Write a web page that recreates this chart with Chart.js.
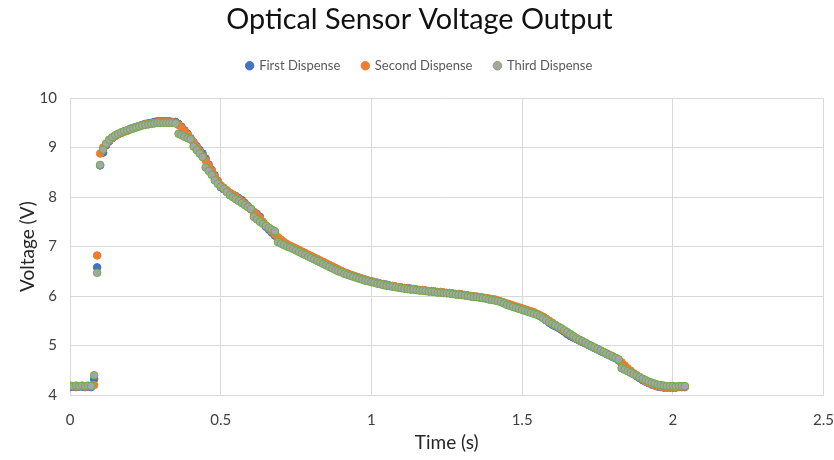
<!DOCTYPE html>
<html>
<head>
<meta charset="utf-8">
<script src="https://cdn.jsdelivr.net/npm/chart.js@4.4.1/dist/chart.umd.min.js"></script>
<style>
  html, body { margin: 0; padding: 0; background: #ffffff; }
  #chart { display: block; }
</style>
</head>
<body>
<canvas id="chart" width="834" height="460"></canvas>
<script>
// Sample times (s), shared by all three dispenses
const time = [
  0.00,0.01,0.02,0.03,0.04,0.05,0.06,0.07,0.08,0.09,
  0.10,0.11,0.12,0.13,0.14,0.15,0.16,0.17,0.18,0.19,
  0.20,0.21,0.22,0.23,0.24,0.25,0.26,0.27,0.28,0.29,
  0.30,0.31,0.32,0.33,0.34,0.35,0.36,0.37,0.38,0.39,
  0.40,0.41,0.42,0.43,0.44,0.45,0.46,0.47,0.48,0.49,
  0.50,0.51,0.52,0.53,0.54,0.55,0.56,0.57,0.58,0.59,
  0.60,0.61,0.62,0.63,0.64,0.65,0.66,0.67,0.68,0.69,
  0.70,0.71,0.72,0.73,0.74,0.75,0.76,0.77,0.78,0.79,
  0.80,0.81,0.82,0.83,0.84,0.85,0.86,0.87,0.88,0.89,
  0.90,0.91,0.92,0.93,0.94,0.95,0.96,0.97,0.98,0.99,
  1.00,1.01,1.02,1.03,1.04,1.05,1.06,1.07,1.08,1.09,
  1.10,1.11,1.12,1.13,1.14,1.15,1.16,1.17,1.18,1.19,
  1.20,1.21,1.22,1.23,1.24,1.25,1.26,1.27,1.28,1.29,
  1.30,1.31,1.32,1.33,1.34,1.35,1.36,1.37,1.38,1.39,
  1.40,1.41,1.42,1.43,1.44,1.45,1.46,1.47,1.48,1.49,
  1.50,1.51,1.52,1.53,1.54,1.55,1.56,1.57,1.58,1.59,
  1.60,1.61,1.62,1.63,1.64,1.65,1.66,1.67,1.68,1.69,
  1.70,1.71,1.72,1.73,1.74,1.75,1.76,1.77,1.78,1.79,
  1.80,1.81,1.82,1.83,1.84,1.85,1.86,1.87,1.88,1.89,
  1.90,1.91,1.92,1.93,1.94,1.95,1.96,1.97,1.98,1.99,
  2.00,2.01,2.02,2.03,2.04
];

// Sensor output (V) for each dispense
const firstDispense = [
  4.16,4.17,4.16,4.17,4.17,4.16,4.17,4.16,4.32,6.58,
  8.64,8.90,9.05,9.13,9.19,9.24,9.27,9.30,9.33,9.35,
  9.38,9.40,9.42,9.44,9.46,9.48,9.49,9.50,9.52,9.53,
  9.53,9.53,9.53,9.53,9.52,9.52,9.48,9.42,9.35,9.28,
  9.19,9.11,9.03,8.95,8.88,8.78,8.66,8.55,8.44,8.33,
  8.20,8.16,8.12,8.08,8.05,8.02,7.98,7.94,7.88,7.82,
  7.76,7.70,7.66,7.60,7.48,7.40,7.34,7.28,7.22,7.17,
  7.12,7.08,7.04,7.01,6.98,6.95,6.92,6.89,6.86,6.83,
  6.80,6.77,6.74,6.71,6.68,6.65,6.62,6.59,6.56,6.53,
  6.50,6.47,6.45,6.43,6.41,6.39,6.37,6.35,6.33,6.31,
  6.30,6.28,6.27,6.25,6.24,6.23,6.21,6.20,6.19,6.18,
  6.17,6.16,6.16,6.15,6.14,6.13,6.12,6.12,6.11,6.10,
  6.10,6.09,6.08,6.08,6.07,6.06,6.06,6.05,6.04,6.03,
  6.03,6.02,6.01,6.00,5.99,5.98,5.97,5.96,5.95,5.94,
  5.93,5.92,5.90,5.88,5.86,5.84,5.82,5.80,5.78,5.76,
  5.74,5.72,5.70,5.68,5.66,5.63,5.60,5.56,5.51,5.46,
  5.42,5.39,5.36,5.32,5.28,5.23,5.19,5.16,5.13,5.10,
  5.07,5.04,5.01,4.98,4.95,4.92,4.89,4.86,4.83,4.80,
  4.77,4.74,4.70,4.64,4.57,4.51,4.46,4.42,4.38,4.34,
  4.30,4.27,4.24,4.21,4.19,4.17,4.16,4.15,4.15,4.15,
  4.15,4.15,4.16,4.16,4.16
];

const secondDispense = [
  4.18,4.18,4.17,4.18,4.18,4.17,4.18,4.18,4.20,6.82,
  8.88,9.00,9.08,9.15,9.20,9.24,9.27,9.30,9.32,9.34,
  9.37,9.39,9.41,9.43,9.45,9.47,9.48,9.49,9.50,9.51,
  9.51,9.51,9.51,9.51,9.51,9.50,9.46,9.40,9.33,9.26,
  9.18,9.10,9.01,8.92,8.83,8.74,8.64,8.53,8.42,8.32,
  8.24,8.19,8.14,8.09,8.05,8.01,7.96,7.91,7.86,7.81,
  7.76,7.70,7.64,7.57,7.50,7.43,7.37,7.31,7.25,7.19,
  7.14,7.09,7.05,7.02,6.99,6.96,6.93,6.90,6.87,6.84,
  6.81,6.78,6.75,6.72,6.69,6.66,6.63,6.60,6.57,6.54,
  6.51,6.48,6.46,6.43,6.41,6.39,6.37,6.35,6.33,6.31,
  6.29,6.28,6.26,6.25,6.23,6.22,6.21,6.20,6.19,6.18,
  6.17,6.16,6.15,6.14,6.14,6.13,6.12,6.12,6.11,6.10,
  6.10,6.09,6.08,6.08,6.07,6.06,6.06,6.05,6.04,6.04,
  6.03,6.02,6.01,6.00,5.99,5.99,5.98,5.97,5.96,5.95,
  5.94,5.93,5.91,5.89,5.87,5.85,5.83,5.81,5.79,5.77,
  5.75,5.73,5.71,5.69,5.67,5.64,5.61,5.58,5.54,5.50,
  5.46,5.42,5.38,5.34,5.30,5.26,5.22,5.18,5.14,5.11,
  5.08,5.05,5.02,4.99,4.96,4.93,4.90,4.87,4.84,4.81,
  4.78,4.75,4.71,4.66,4.60,4.54,4.49,4.44,4.40,4.36,
  4.32,4.28,4.25,4.22,4.20,4.18,4.17,4.17,4.16,4.16,
  4.16,4.16,4.17,4.17,4.17
];

const thirdDispense = [
  4.19,4.18,4.19,4.18,4.19,4.18,4.19,4.18,4.40,6.47,
  8.65,8.96,9.08,9.16,9.21,9.25,9.28,9.31,9.33,9.35,
  9.37,9.39,9.41,9.43,9.45,9.46,9.47,9.48,9.49,9.50,
  9.50,9.50,9.50,9.50,9.50,9.49,9.28,9.25,9.22,9.19,
  9.17,9.02,8.95,8.88,8.81,8.60,8.53,8.45,8.34,8.27,
  8.21,8.17,8.10,8.04,8.00,7.96,7.92,7.88,7.84,7.80,
  7.76,7.60,7.55,7.50,7.46,7.42,7.38,7.34,7.31,7.09,
  7.06,7.03,7.00,6.98,6.95,6.92,6.89,6.86,6.83,6.80,
  6.77,6.74,6.71,6.68,6.65,6.62,6.59,6.56,6.53,6.50,
  6.48,6.45,6.43,6.41,6.39,6.37,6.35,6.33,6.31,6.30,
  6.28,6.27,6.25,6.24,6.22,6.21,6.20,6.19,6.18,6.17,
  6.16,6.15,6.14,6.13,6.13,6.12,6.11,6.11,6.10,6.09,
  6.09,6.08,6.07,6.07,6.06,6.06,6.05,6.04,6.03,6.03,
  6.02,6.01,6.00,5.99,5.98,5.98,5.97,5.96,5.95,5.93,
  5.92,5.91,5.90,5.88,5.85,5.82,5.80,5.78,5.76,5.74,
  5.72,5.70,5.68,5.66,5.64,5.62,5.59,5.55,5.51,5.47,
  5.44,5.41,5.38,5.35,5.31,5.27,5.23,5.19,5.15,5.12,
  5.09,5.06,5.02,4.99,4.96,4.93,4.90,4.87,4.84,4.81,
  4.78,4.75,4.72,4.54,4.51,4.48,4.45,4.42,4.39,4.36,
  4.33,4.30,4.27,4.25,4.23,4.21,4.20,4.19,4.18,4.18,
  4.18,4.17,4.18,4.18,4.18
];

// Axis ticks
const timeTicks = [0, 0.5, 1, 1.5, 2, 2.5];
const voltageTicks = [4, 5, 6, 7, 8, 9, 10];

const seriesNames = ['First Dispense', 'Second Dispense', 'Third Dispense'];

const FONT = 'Lato, "Open Sans", sans-serif';
const GRID = '#d9d9d9';

const toPoints = (values) => time.map((t, i) => ({ x: t, y: values[i] }));

// Adds empty room between the legend and the plot area
const legendGap = {
  id: 'legendGap',
  beforeInit(chart) {
    Chart.layouts.addBox(chart, {
      position: 'top',
      weight: 900,
      fullSize: true,
      options: {},
      isHorizontal() { return true; },
      update(maxWidth) { this.width = maxWidth; this.height = 15.9; },
      draw() {}
    });
  }
};

new Chart(document.getElementById('chart'), {
  type: 'scatter',
  data: {
    datasets: [
      {
        label: seriesNames[0],
        data: toPoints(firstDispense),
        backgroundColor: '#4472C4',
        borderColor: '#4472C4',
        order: 3
      },
      {
        label: seriesNames[1],
        data: toPoints(secondDispense),
        backgroundColor: '#ED7D31',
        borderColor: '#ED7D31',
        order: 2
      },
      {
        label: seriesNames[2],
        data: toPoints(thirdDispense),
        backgroundColor: '#A5A5A5',
        borderColor: '#70AD47',
        order: 1
      }
    ]
  },
  options: {
    responsive: false,
    animation: false,
    devicePixelRatio: 1,
    events: [],
    layout: { padding: { left: 7, right: 2, top: 0, bottom: 0 } },
    elements: {
      point: { radius: 3.8, borderWidth: 1, pointStyle: 'circle' }
    },
    plugins: {
      tooltip: { enabled: false },
      title: {
        display: true,
        text: 'Optical Sensor Voltage Output',
        color: '#111111',
        font: { family: FONT, size: 28.8, weight: 'normal' },
        padding: { top: 2.7, bottom: 0 }
      },
      legend: {
        display: true,
        position: 'top',
        labels: {
          usePointStyle: true,
          pointStyle: 'circle',
          boxWidth: 6,
          boxHeight: 6,
          padding: 22,
          color: '#595959',
          font: { family: FONT, size: 13 },
          sort: (a, b) => a.datasetIndex - b.datasetIndex
        }
      }
    },
    scales: {
      x: {
        type: 'linear',
        min: 0,
        max: 2.5,
        afterBuildTicks: (scale) => { scale.ticks = timeTicks.map(v => ({ value: v })); },
        afterFit: (scale) => { scale.height = 65; },
        grid: { color: GRID, lineWidth: 1, drawTicks: true, tickLength: 16, tickColor: 'rgba(0,0,0,0)' },
        border: { color: GRID, width: 1 },
        ticks: {
          color: '#404040',
          font: { family: FONT, size: 15 },
          padding: 0,
          callback: (v) => String(v)
        },
        title: {
          display: true,
          text: 'Time (s)',
          color: '#262626',
          font: { family: FONT, size: 19 },
          padding: { top: 0, bottom: 5.6 }
        }
      },
      y: {
        type: 'linear',
        min: 4,
        max: 10,
        afterBuildTicks: (scale) => { scale.ticks = voltageTicks.map(v => ({ value: v })); },
        afterFit: (scale) => { scale.width = 63; },
        grid: { color: GRID, lineWidth: 1, drawTicks: true, tickLength: 13, tickColor: 'rgba(0,0,0,0)' },
        border: { color: GRID, width: 1 },
        ticks: {
          color: '#404040',
          font: { family: FONT, size: 15 },
          padding: 0,
          callback: (v) => String(v)
        },
        title: {
          display: true,
          text: 'Voltage (V)',
          color: '#262626',
          font: { family: FONT, size: 19 },
          padding: { top: 9, bottom: 0 }
        }
      }
    }
  },
  plugins: [legendGap]
});
</script>
</body>
</html>
